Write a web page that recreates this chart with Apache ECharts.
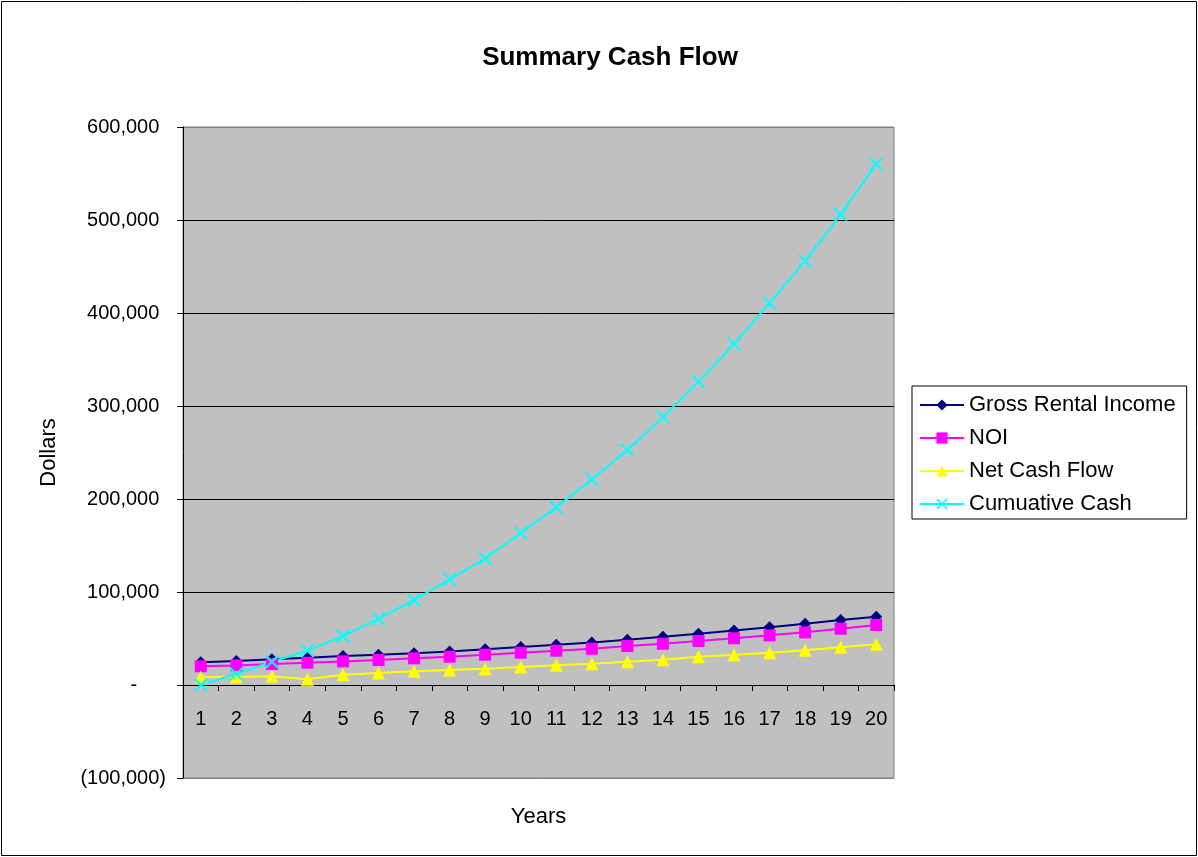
<!DOCTYPE html>
<html>
<head>
<meta charset="utf-8">
<title>Summary Cash Flow</title>
<script src="https://cdn.jsdelivr.net/npm/echarts@6/dist/echarts.min.js"></script>
<style>
  html, body { margin: 0; padding: 0; background: #ffffff; }
  #chart { width: 1198px; height: 857px; }
</style>
</head>
<body>
<div id="chart"></div>
<script>
// Years on the category axis
const years = ['1','2','3','4','5','6','7','8','9','10','11','12','13','14','15','16','17','18','19','20'];

// Annual figures, dollars
const grossRentalIncome = [24400, 25800, 27600, 29400, 31200, 32600, 34200, 36000, 38500, 40800, 43300, 45800, 48600, 51800, 55000, 58500, 62000, 65800, 69800, 73400];
const noi               = [20100, 21100, 22600, 24000, 25400, 26900, 28700, 30400, 32600, 34700, 36900, 39000, 41900, 44400, 47300, 50200, 53400, 56600, 60500, 64500];
const netCashFlow       = [8600, 8600, 9300, 6100, 11100, 12900, 14700, 16100, 17600, 19400, 21200, 22900, 25000, 27200, 30400, 32600, 34700, 37300, 40500, 43700];
const cumulativeCash    = [0, 11800, 25000, 36900, 52700, 71000, 91400, 113600, 136000, 163400, 191000, 221000, 252700, 288000, 326000, 366700, 410700, 456000, 506000, 560000];

const seriesNames = ['Gross Rental Income', 'NOI', 'Net Cash Flow', 'Cumuative Cash'];

const FONT = 'Arial, "Liberation Sans", sans-serif';
const crossSymbol = 'path://M0,1 L1,0 L5,4 L9,0 L10,1 L6,5 L10,9 L9,10 L5,6 L1,10 L0,9 L4,5 Z';

// Accounting-style labels: negatives in parentheses, zero as a dash,
// with hidden padding so digits line up as in a spreadsheet
function dollarLabel(v) {
  if (v === 0) return '-{pad|00)}';
  const s = Math.abs(v).toLocaleString('en-US');
  return v < 0 ? '(' + s + ')' : s + '{pad|)}';
}

const chart = echarts.init(document.getElementById('chart'), null, { renderer: 'canvas' });

function lineSeries(name, data, color, symbol, size) {
  return {
    name: name,
    type: 'line',
    data: data,
    symbol: symbol,
    symbolSize: size,
    showAllSymbol: true,
    animation: false,
    lineStyle: { color: color, width: 2 },
    itemStyle: { color: color },
    emphasis: { disabled: true }
  };
}

chart.setOption({
  animation: false,
  backgroundColor: '#ffffff',
  textStyle: { fontFamily: FONT },
  title: {
    text: 'Summary Cash Flow',
    left: 605,
    textAlign: 'center',
    top: 40,
    textStyle: { fontFamily: FONT, fontSize: 26, fontWeight: 'bold', color: '#000000' }
  },
  graphic: [{
    type: 'rect',
    shape: { x: 1.5, y: 1.5, width: 1195, height: 854 },
    style: { fill: 'none', stroke: '#000000', lineWidth: 1 },
    silent: true,
    z: -1
  }],
  legend: {
    orient: 'vertical',
    left: 912,
    top: 386,
    itemWidth: 44,
    itemHeight: 14,
    itemGap: 11,
    padding: [8, 11, 4, 7],
    borderColor: '#000000',
    borderWidth: 1,
    backgroundColor: '#ffffff',
    data: seriesNames,
    selectedMode: false,
    textStyle: { fontFamily: FONT, fontSize: 22, lineHeight: 22, color: '#000000' }
  },
  grid: {
    left: 183,
    right: 304,
    top: 127,
    bottom: 79,
    show: true,
    backgroundColor: '#c0c0c0',
    borderColor: '#808080',
    borderWidth: 1,
    containLabel: false,
    outerBoundsMode: 'none'
  },
  xAxis: {
    type: 'category',
    data: years,
    boundaryGap: true,
    name: 'Years',
    nameLocation: 'middle',
    nameGap: 28,
    nameTextStyle: { fontFamily: FONT, fontSize: 22, color: '#000000' },
    axisLine: { show: true, onZero: true, lineStyle: { color: '#000000', width: 1 } },
    axisTick: { show: true, inside: false, length: 6, alignWithLabel: false, lineStyle: { color: '#000000' } },
    axisLabel: { interval: 0, margin: -69, fontFamily: FONT, fontSize: 20, color: '#000000' },
    splitLine: { show: false }
  },
  yAxis: {
    type: 'value',
    min: -100000,
    max: 600000,
    interval: 100000,
    name: 'Dollars',
    nameLocation: 'middle',
    nameGap: 123,
    nameRotate: 90,
    nameTextStyle: { fontFamily: FONT, fontSize: 22, color: '#000000' },
    axisLine: { show: true, lineStyle: { color: '#000000', width: 1 } },
    axisTick: { show: true, inside: false, length: 6, lineStyle: { color: '#000000' } },
    axisLabel: {
      margin: 17,
      fontFamily: FONT,
      fontSize: 20,
      color: '#000000',
      formatter: dollarLabel,
      rich: { pad: { fontFamily: FONT, fontSize: 20, color: 'rgba(0,0,0,0)' } }
    },
    splitLine: {
      show: true,
      lineStyle: { color: ['#808080', '#000000', '#000000', '#000000', '#000000', '#000000', '#000000', '#808080'], width: 1 }
    }
  },
  series: [
    lineSeries(seriesNames[0], grossRentalIncome, '#000080', 'diamond', 12),
    lineSeries(seriesNames[1], noi, '#ff00ff', 'rect', 12),
    lineSeries(seriesNames[2], netCashFlow, '#ffff00', 'triangle', 13),
    lineSeries(seriesNames[3], cumulativeCash, '#00ffff', crossSymbol, 14)
  ]
});
</script>
</body>
</html>
